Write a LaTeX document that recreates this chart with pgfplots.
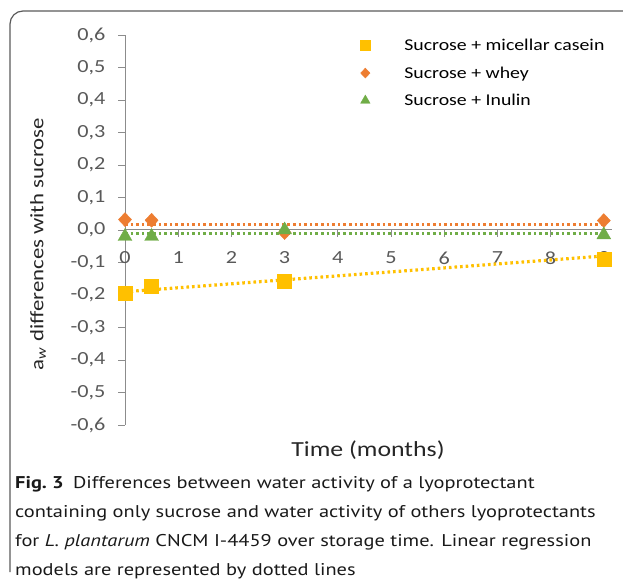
\documentclass[border=0pt]{standalone}
\usepackage{fontspec}
\setmainfont{Carlito}[FakeStretch=1.2]
\newfontfamily\capfont{PT Sans}[FakeStretch=1.2]
\usepackage{pgfplots}
\pgfplotsset{compat=1.18}

\definecolor{casein}{HTML}{FFC000}
\definecolor{whey}{HTML}{ED7D31}
\definecolor{inulin}{HTML}{70AD47}
\definecolor{axisgrey}{HTML}{8C8C8C}
\definecolor{labelgrey}{HTML}{595959}
\definecolor{framegrey}{HTML}{5A5A5A}

\begin{document}
\begin{tikzpicture}
\path[use as bounding box] (0,0) rectangle (623pt,581pt);
% frame of the figure
\draw[framegrey, line width=1.2pt, rounded corners=13pt]
  (10pt,9pt) -- (10pt,570pt) -- (623pt,570pt);

\begin{axis}[
    at={(125pt,351pt)}, anchor=origin,
    x=53.2pt, y=325pt,
    xmin=0, xmax=9.15,
    ymin=-0.6, ymax=0.6,
    clip=false,
    axis x line=middle,
    axis y line=left,
    hide obscured x ticks=false,
    axis line style={-, axisgrey, line width=1pt},
    tick style={axisgrey, line width=0.9pt},
    tick align=outside,
    major tick length=7pt,
    xtick={0,1,2,3,4,5,6,7,8,9},
    xticklabels={0,1,2,3,4,5,6,7,8,9},
    ytick={-0.6,-0.5,-0.4,-0.3,-0.2,-0.1,0,0.1,0.2,0.3,0.4,0.5,0.6},
    yticklabels={{-0,6},{-0,5},{-0,4},{-0,3},{-0,2},{-0,1},{0,0},{0,1},{0,2},{0,3},{0,4},{0,5},{0,6}},
    xticklabel style={font=\fontsize{18.5}{22}\selectfont, text=labelgrey, yshift=-11pt},
    yticklabel style={font=\fontsize{18.5}{22}\selectfont, text=labelgrey, xshift=-9pt},
    legend style={at={(axis cs:4.42,0.594)}, anchor=north west, draw=none, fill=none,
      font=\fontsize{16.5}{20}\selectfont, row sep=10.5pt, inner sep=0pt,
      legend cell align=left, text=black,
      /tikz/every odd column/.append style={column sep=32pt}},
]

% linear regression models (dotted)
\addplot[casein, line width=3.2pt, dash pattern=on 2.6pt off 3pt, forget plot]
  coordinates {(0,-0.190) (9,-0.080)};
\addplot[whey, line width=3pt, dash pattern=on 2.6pt off 3pt, forget plot]
  coordinates {(0,0.018) (9,0.018)};
\addplot[inulin, line width=3pt, dash pattern=on 2.6pt off 3pt, forget plot]
  coordinates {(0,-0.012) (9,-0.012)};

% Sucrose + micellar casein
\addplot[only marks, mark=square*, mark size=7pt, color=casein,
  legend image post style={mark size=5pt}]
  coordinates {(0,-0.195) (0.5,-0.173) (3,-0.157) (9,-0.089)};
\addlegendentry{Sucrose + micellar casein}

% Sucrose + whey
\addplot[only marks, mark=diamond*, mark size=7pt, color=whey,
  mark options={xscale=1.25},
  legend image post style={mark size=5pt}]
  coordinates {(0,0.032) (0.5,0.030) (3,-0.008) (9,0.029)};
\addlegendentry{Sucrose + whey}

% Sucrose + Inulin
\addplot[only marks, mark=triangle*, mark size=8pt, color=inulin,
  legend image post style={mark size=5.5pt}]
  coordinates {(0,-0.020) (0.5,-0.020) (3,0.000) (9,-0.015)};
\addlegendentry{Sucrose + Inulin}

\end{axis}

\node[rotate=90, font=\fontsize{19}{24}\selectfont, text=black!85] at (38pt,337pt)
  {a\textsubscript{\textit{w}} differences with sucrose};
\node[font=\fontsize{21.5}{24}\selectfont, text=black!85] at (368pt,131pt) {Time (months)};

\node[anchor=north west, align=left, inner sep=0pt, text=black!90,
  font=\capfont\fontsize{17}{29}\selectfont] at (15pt,105pt)
  {\textbf{Fig.~3}\hspace{0.55em}Differences between water activity of a lyoprotectant\\
   containing only sucrose and water activity of others lyoprotectants\\
   for \textit{L.~plantarum} CNCM I-4459 over storage time. Linear regression\\
   models are represented by dotted lines};
\end{tikzpicture}
\end{document}
